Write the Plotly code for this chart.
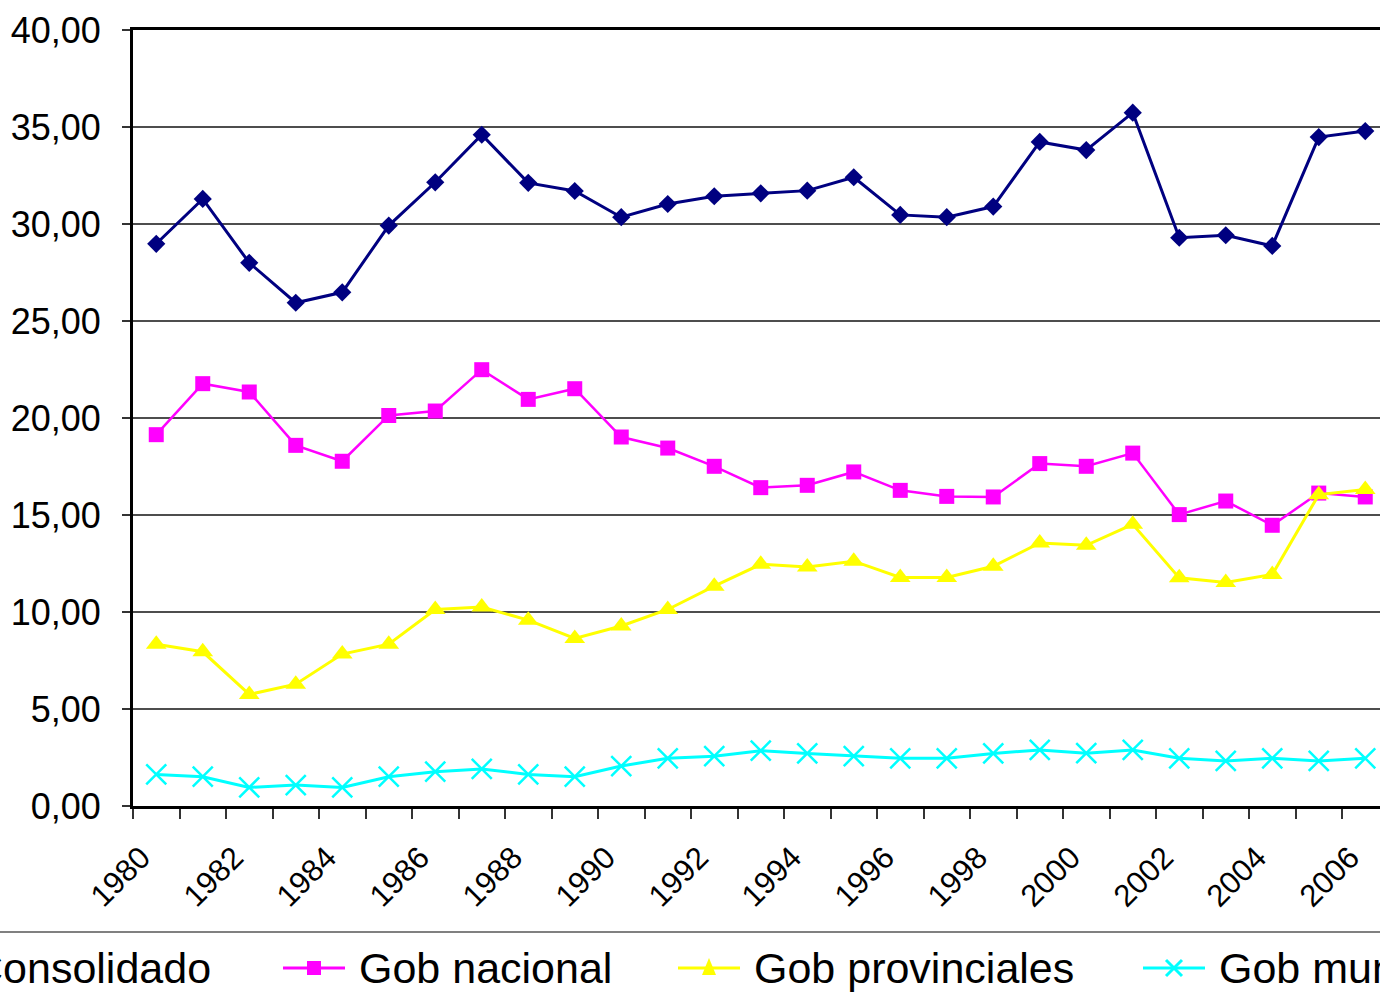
import plotly.graph_objects as go

# years on the category axis
years = list(range(1980, 2007))
label_years = list(range(1980, 2007, 2))
y_ticks = [0, 5, 10, 15, 20, 25, 30, 35, 40]

series_names = ["Consolidado", "Gob nacional", "Gob provinciales", "Gob municipales"]

consolidado = [28.98, 31.29, 28.00, 25.94, 26.48, 29.92, 32.15, 34.60, 32.12, 31.70,
               30.35, 31.03, 31.43, 31.58, 31.72, 32.41, 30.47, 30.35, 30.90, 34.23,
               33.81, 35.74, 29.29, 29.42, 28.87, 34.48, 34.79]
gob_nacional = [19.14, 21.77, 21.34, 18.59, 17.77, 20.13, 20.36, 22.49, 20.96, 21.51,
                19.02, 18.45, 17.51, 16.41, 16.53, 17.22, 16.27, 15.96, 15.93, 17.65,
                17.51, 18.19, 15.02, 15.72, 14.47, 16.13, 15.93]
gob_provinciales = [8.34, 7.95, 5.75, 6.28, 7.83, 8.34, 10.13, 10.26, 9.58, 8.64,
                    9.28, 10.13, 11.33, 12.46, 12.32, 12.62, 11.78, 11.78, 12.36, 13.56,
                    13.44, 14.52, 11.76, 11.52, 11.93, 16.05, 16.31]
gob_municipales = [1.63, 1.51, 0.96, 1.08, 0.96, 1.51, 1.77, 1.91, 1.63, 1.51,
                   2.06, 2.46, 2.57, 2.85, 2.71, 2.57, 2.46, 2.46, 2.71, 2.89,
                   2.72, 2.89, 2.46, 2.32, 2.46, 2.32, 2.46]

colors = ["#000080", "#FF00FF", "#FFFF00", "#00FFFF"]
symbols = ["diamond", "square", "triangle-up", "x-thin"]
sizes = [14, 15, 18, 20]
widths = [3, 2.5, 3, 3]

FONT = "Arial, Liberation Sans, sans-serif"

FIG_W, FIG_H = 1380, 1000
# plot area in pixels; it runs on past the right edge like the original
L, T, W, H = 133, 30, 1380 - 133, 776
PX_PER_YEAR = 46.5


def px(x):
    return (x - L) / W


def py(y):
    return (T + H - y) / H


fig = go.Figure()
for name, vals, col, sym, sz, lw in zip(series_names,
                                        [consolidado, gob_nacional, gob_provinciales, gob_municipales],
                                        colors, symbols, sizes, widths):
    fig.add_trace(go.Scatter(
        x=years, y=vals, name=name, mode="lines+markers",
        line=dict(color=col, width=lw),
        marker=dict(symbol=sym, size=sz, color=col, line=dict(color=col, width=2.5 if sym == "x-thin" else 0)),
        cliponaxis=False, showlegend=False,
    ))

# legend drawn by hand so it can run off both edges like the original
legend_start = [-104, 283, 678, 1143]
legend_y = 968
marker_paths = [
    "M0,9 L8,0 L0,-9 L-8,0 Z",
    "M-7,-7 L7,-7 L7,7 L-7,7 Z",
    "M0,10 L7,-7 L-7,-7 Z",
    "M-8,-8 L8,8 M-8,8 L8,-8",
]
shapes = [dict(type="line", xref="paper", yref="paper", x0=px(-20), x1=px(1400),
               y0=py(932), y1=py(932), line=dict(color="#808080", width=2))]
annotations = []
for name, col, start, path in zip(series_names, colors, legend_start, marker_paths):
    shapes.append(dict(type="line", xref="paper", yref="paper",
                       x0=px(start), x1=px(start + 62), y0=py(legend_y), y1=py(legend_y),
                       line=dict(color=col, width=3)))
    shapes.append(dict(type="path", xref="paper", yref="paper",
                       xsizemode="pixel", ysizemode="pixel",
                       xanchor=px(start + 31), yanchor=py(legend_y), path=path,
                       fillcolor=col if "Z" in path else None,
                       line=dict(color=col, width=3 if "Z" not in path else 0)))
    annotations.append(dict(text=name, xref="paper", yref="paper",
                            x=px(start + 74), y=py(legend_y), xanchor="left", yanchor="middle",
                            showarrow=False, font=dict(family=FONT, size=43, color="black")))

fig.update_layout(
    width=FIG_W, height=FIG_H,
    margin=dict(l=L, r=0, t=T, b=FIG_H - T - H, autoexpand=False),
    paper_bgcolor="white", plot_bgcolor="white",
    separators=",.",
    font=dict(family=FONT, color="black"),
    shapes=shapes, annotations=annotations,
    showlegend=False,
)
# rotated labels are nudged left so that their end sits at the category centre
label_shift = 15 / PX_PER_YEAR
fig.update_xaxes(
    range=[1979.5, 1979.5 + W / PX_PER_YEAR],
    tickvals=[y - label_shift for y in label_years], ticktext=[str(y) for y in label_years],
    ticks="", tickangle=-45, ticklabeloverflow="allow",
    tickfont=dict(size=31), ticklabelstandoff=18,
    showgrid=False, zeroline=False,
    showline=True, linecolor="black", linewidth=3, mirror=True,
    minor=dict(tick0=1979.5, dtick=1, ticks="outside", ticklen=10, tickwidth=2, tickcolor="#333333", showgrid=False),
)
fig.update_yaxes(
    range=[0, 40], tickvals=y_ticks, tickformat=".2f",
    tickfont=dict(size=36), ticks="outside", ticklen=8, tickwidth=2, tickcolor="#333333",
    ticklabelstandoff=14,
    showgrid=True, gridcolor="#4d4d4d", gridwidth=1.5, zeroline=False,
    showline=True, linecolor="black", linewidth=3,
)

# drop the page's default body margin so the figure sits at the top-left corner
fig.write_html("out.html", config={"displayModeBar": False},
               post_script="document.body.style.margin = '0';")
